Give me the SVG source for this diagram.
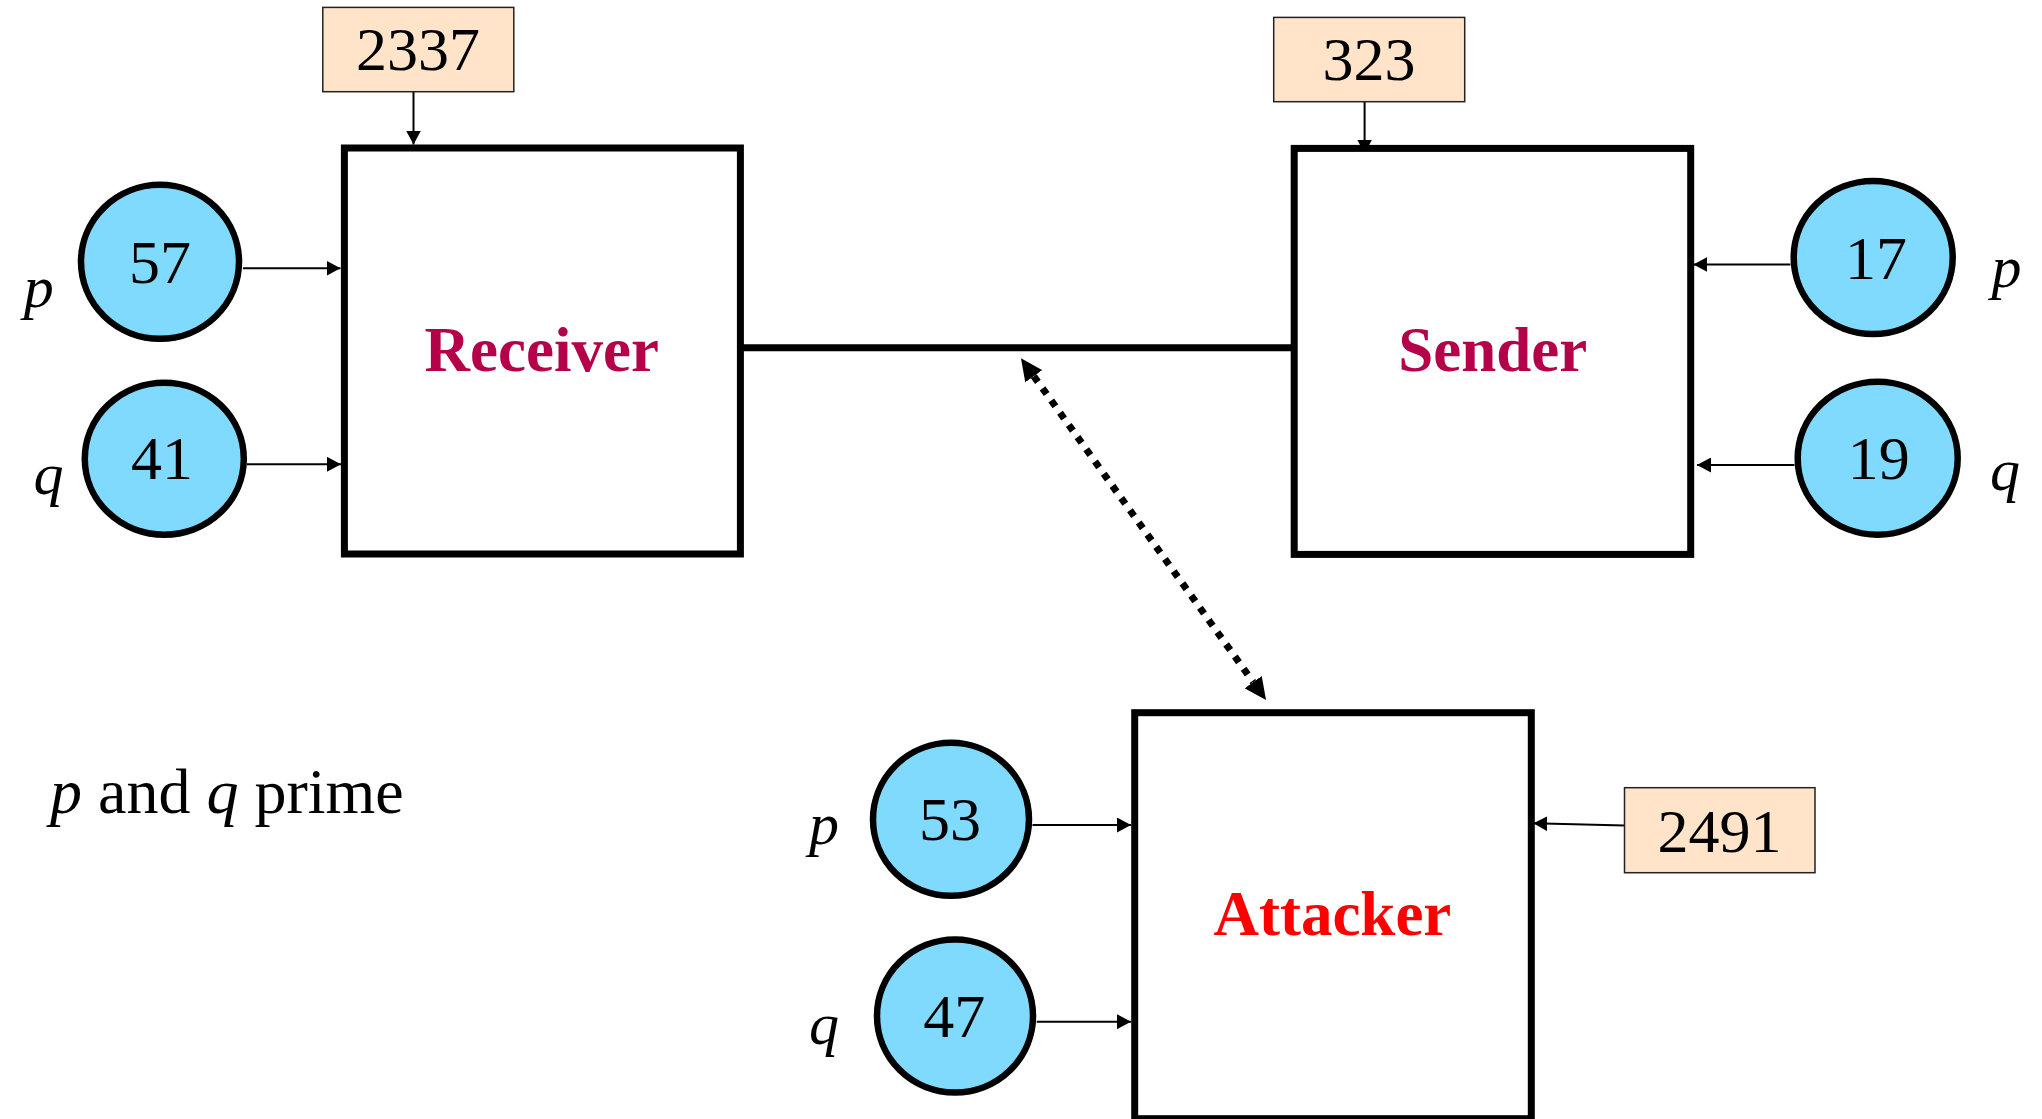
<svg xmlns="http://www.w3.org/2000/svg" width="2042" height="1119" viewBox="0 0 2042 1119">
  <style>
    .box { fill: #ffffff; stroke: #000000; stroke-width: 7; }
    .num { fill: #ffe4ca; stroke: #222222; stroke-width: 1.5; }
    .prime { fill: #80dafe; stroke: #000000; stroke-width: 6.5; }
    .txt { font-family: "Liberation Serif", "Times New Roman", serif; font-size: 62px; fill: #000000; text-anchor: middle; }
    .lbl { font-family: "Liberation Serif", "Times New Roman", serif; font-size: 60px; font-style: italic; fill: #000000; text-anchor: middle; }
    .title { font-family: "Liberation Serif", "Times New Roman", serif; font-size: 63px; font-weight: bold; text-anchor: middle; }
    .feed { stroke: #000000; stroke-width: 2; fill: none; marker-end: url(#tip); }
    .link { stroke: #000000; stroke-width: 7; fill: none; }
    .tap { stroke: #000000; stroke-width: 7; fill: none; stroke-dasharray: 7 8; marker-start: url(#head); marker-end: url(#head); }
  </style>
  <defs>
    <marker id="tip" viewBox="0 -7.5 14 15" refX="14" refY="0" markerWidth="14" markerHeight="15" markerUnits="userSpaceOnUse" orient="auto">
      <path d="M0,-7.5 L14,0 L0,7.5 z" fill="#000000"/>
    </marker>
    <marker id="head" viewBox="0 -10.5 22 21" refX="0" refY="0" markerWidth="22" markerHeight="21" markerUnits="userSpaceOnUse" orient="auto-start-reverse">
      <path d="M0,-10.5 L22,0 L0,10.5 z" fill="#000000"/>
    </marker>
  </defs>

  <!-- connectors -->
  <g id="connectors">
    <line class="link" x1="740" y1="347.8" x2="1294" y2="347.8"/>
    <line class="tap" x1="1033.8" y1="376.2" x2="1253.2" y2="682.1"/>
    <line class="feed" x1="413.5" y1="91.7" x2="413.5" y2="144.5"/>
    <line class="feed" x1="243" y1="268.3" x2="340.5" y2="268.3"/>
    <line class="feed" x1="247" y1="464.3" x2="341" y2="464.3"/>
    <line class="feed" x1="1364.6" y1="101.7" x2="1364.6" y2="153.5"/>
    <line class="feed" x1="1790.4" y1="264.5" x2="1693.4" y2="264.5"/>
    <line class="feed" x1="1794.4" y1="465" x2="1697" y2="465"/>
    <line class="feed" x1="1032.5" y1="825" x2="1131" y2="825"/>
    <line class="feed" x1="1036.7" y1="1021.7" x2="1131" y2="1021.7"/>
    <line class="feed" x1="1624.5" y1="825.5" x2="1533.3" y2="823.3"/>
  </g>

  <!-- receiver side -->
  <g id="receiver">
    <rect class="box" x="344.4" y="148" width="396" height="406"/>
    <text class="title" x="541.7" y="371" fill="#b5004a">Receiver</text>
  </g>
  <g id="receiver-key">
    <rect class="num" x="322.8" y="7.4" width="191" height="84.3"/>
    <text class="txt" x="418" y="70.3">2337</text>
  </g>
  <g id="receiver-p">
    <ellipse class="prime" cx="160" cy="261.8" rx="79" ry="77"/>
    <text class="txt" x="160" y="283">57</text>
    <text class="lbl" x="38.8" y="307">p</text>
  </g>
  <g id="receiver-q">
    <ellipse class="prime" cx="164.3" cy="458.7" rx="79.5" ry="76"/>
    <text class="txt" x="162" y="479">41</text>
    <text class="lbl" x="48.5" y="494">q</text>
  </g>

  <!-- sender side -->
  <g id="sender">
    <rect class="box" x="1294.2" y="148.4" width="396.5" height="406"/>
    <text class="title" x="1492.7" y="371" fill="#b5004a">Sender</text>
  </g>
  <g id="sender-key">
    <rect class="num" x="1273.7" y="17.4" width="191" height="84.3"/>
    <text class="txt" x="1369" y="79.5">323</text>
  </g>
  <g id="sender-p">
    <ellipse class="prime" cx="1873.2" cy="257.5" rx="79.5" ry="76.5"/>
    <text class="txt" x="1876" y="279.3">17</text>
    <text class="lbl" x="2006.4" y="287">p</text>
  </g>
  <g id="sender-q">
    <ellipse class="prime" cx="1877.7" cy="458.2" rx="80" ry="76.5"/>
    <text class="txt" x="1878.8" y="479">19</text>
    <text class="lbl" x="2005" y="490">q</text>
  </g>

  <!-- attacker side -->
  <g id="attacker">
    <rect class="box" x="1134.7" y="712.7" width="396.6" height="406"/>
    <text class="title" x="1332.4" y="935" fill="#ff0000">Attacker</text>
  </g>
  <g id="attacker-key">
    <rect class="num" x="1624.5" y="787.7" width="190.5" height="85"/>
    <text class="txt" x="1719.5" y="851.7">2491</text>
  </g>
  <g id="attacker-p">
    <ellipse class="prime" cx="951" cy="819.3" rx="78" ry="76.5"/>
    <text class="txt" x="950" y="840">53</text>
    <text class="lbl" x="824" y="843.7">p</text>
  </g>
  <g id="attacker-q">
    <ellipse class="prime" cx="955" cy="1016" rx="78" ry="76.5"/>
    <text class="txt" x="954.3" y="1036.7">47</text>
    <text class="lbl" x="824" y="1043.7">q</text>
  </g>

  <!-- note -->
  <text id="note" x="50" y="813.3" font-family="'Liberation Serif', 'Times New Roman', serif" font-size="64" fill="#000000"><tspan font-style="italic">p</tspan> and <tspan font-style="italic">q</tspan> prime</text>
</svg>
